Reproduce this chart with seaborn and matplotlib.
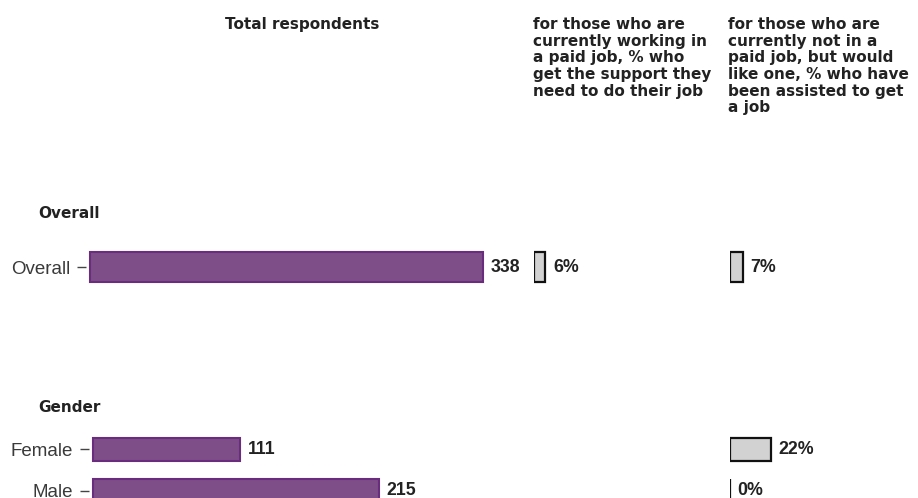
import numpy as np
import pandas as pd
import matplotlib
matplotlib.use("Agg")
import matplotlib.pyplot as plt
import seaborn as sns

# dados
overall_labels = ["Overall"]
overall_total = [338]
overall_supported = [6]
overall_assisted = [7]

gender_labels = ["Female", "Male"]
gender_total = [111, 215]
gender_supported = [np.nan, np.nan]
gender_assisted = [22, 0]

col_headers = [
    "Total respondents",
    "for those who are\ncurrently working in\na paid job, % who\nget the support they\nneed to do their job",
    "for those who are\ncurrently not in a\npaid job, but would\nlike one, % who have\nbeen assisted to get\na job",
]

sns.set_theme(style="white")
plt.rcParams["font.family"] = ["Liberation Sans", "DejaVu Sans"]

W, H = 918, 498
fig = plt.figure(figsize=(W / 100, H / 100), dpi=100)

PURPLE = "#7e4e88"
PURPLE_EDGE = "#6a2c7c"
GREY = "#d2d2d2"


def px_axes(left, top, width, height):
    return fig.add_axes([left / W, 1 - (top + height) / H, width / W, height / H])


def clean(ax):
    for s in ax.spines.values():
        s.set_visible(False)
    ax.set_xlabel("")
    ax.set_ylabel("")
    ax.set_xticks([])


def section(labels, total, supported, assisted, top, row_h, bar_w, axis_left, scale):
    n = len(labels)
    h = row_h * n
    offset = 4
    # total respondents
    ax = px_axes(axis_left, top, 440, h)
    df = pd.DataFrame({"grp": labels, "n": total})
    sns.barplot(data=df, x="n", y="grp", order=labels, orient="h", ax=ax,
                color=PURPLE, edgecolor=PURPLE_EDGE, linewidth=1.5,
                width=bar_w, saturation=1)
    ax.set_xlim(-offset / scale, (440 - offset) / scale)
    ax.set_ylim(n - 0.5, -0.5)
    ax.bar_label(ax.containers[0], labels=[str(v) for v in total], padding=5.5,
                 fontsize=12.8, fontweight="bold", color="#222222")
    clean(ax)
    ax.tick_params(axis="y", left=True, length=6.5, width=1.0, color="#444444",
                   pad=5, labelsize=13.5, labelcolor="#3a3a3a")

    # percentage columns
    for left, vals in [(534, supported), (729.5, assisted)]:
        ax2 = px_axes(left, top, 180, h)
        d = pd.DataFrame({"grp": labels, "pct": vals}).dropna()
        if len(d):
            sns.barplot(data=d, x="pct", y="grp", order=labels, orient="h", ax=ax2,
                        color=GREY, edgecolor="#111111", linewidth=1.6,
                        width=bar_w, saturation=1)
            ax2.bar_label(ax2.containers[0], labels=[f"{v:.0f}%" for v in d["pct"]],
                          padding=5.5, fontsize=12.8, fontweight="bold", color="#222222")
        ax2.set_xlim(0, 180 / 1.88)
        ax2.set_ylim(n - 0.5, -0.5)
        clean(ax2)
        ax2.set_yticks([])


section(overall_labels, overall_total, overall_supported, overall_assisted,
        top=247, row_h=40, bar_w=0.75, axis_left=86, scale=1.162)
section(gender_labels, gender_total, gender_supported, gender_assisted,
        top=428.6, row_h=41.4, bar_w=0.55, axis_left=88.7, scale=1.33)

# titulos das colunas
hdr = dict(family="DejaVu Sans", fontweight="bold", fontsize=11, color="#222222")
fig.text(302 / W, 1 - 25 / H, col_headers[0], ha="center", va="center", **hdr)
fig.text(533 / W, 1 - 17 / H, col_headers[1], ha="left", va="top", linespacing=1.14, **hdr)
fig.text(728 / W, 1 - 17 / H, col_headers[2], ha="left", va="top", linespacing=1.14, **hdr)

# rotulos das secoes
fig.text(38 / W, 1 - 213 / H, "Overall", ha="left", va="center", **hdr)
fig.text(38 / W, 1 - 408 / H, "Gender", ha="left", va="center", **hdr)

fig.savefig("out.png", dpi=100)
